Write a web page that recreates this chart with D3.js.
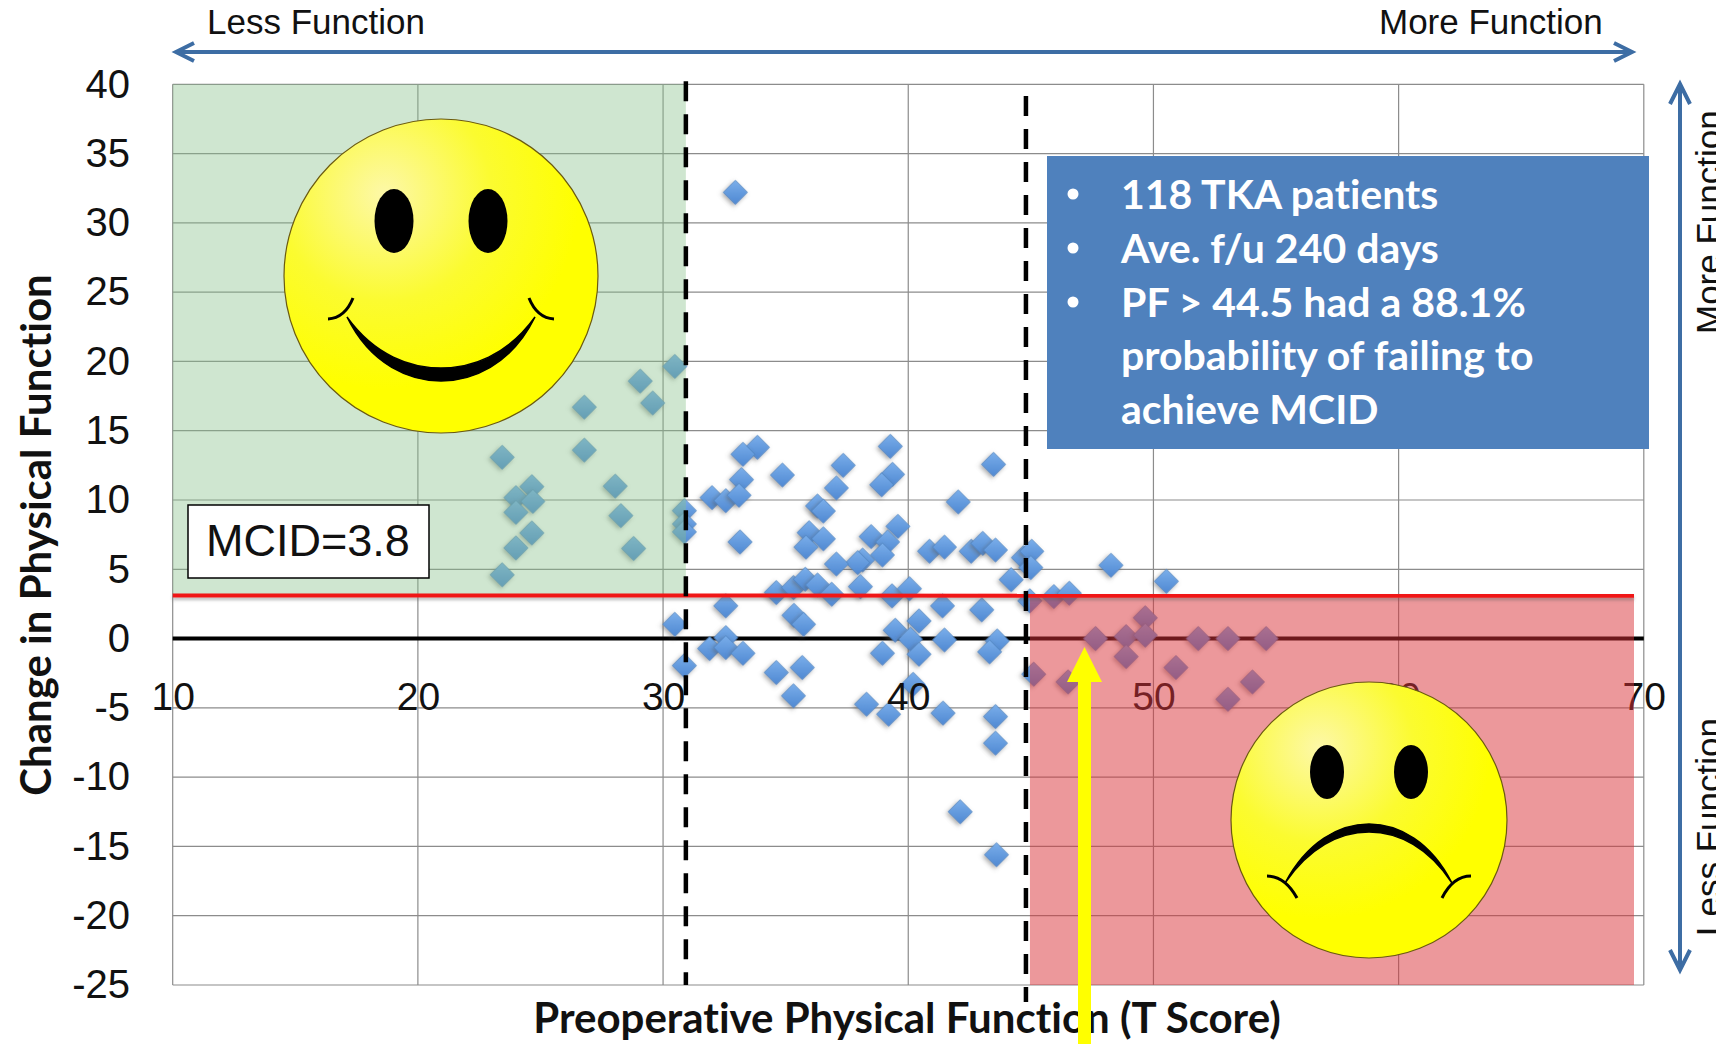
<!DOCTYPE html>
<html>
<head>
<meta charset="utf-8">
<script src="https://d3js.org/d3.v7.min.js"></script>
<style>
  html, body { margin: 0; padding: 0; background: #fff; overflow: hidden; }
  svg { display: block; }
  .arial { font-family: "Liberation Sans", Arial, sans-serif; }
  .calibri { font-family: Lato, "Open Sans", sans-serif; font-weight: 700; font-variant-ligatures: none; }
</style>
</head>
<body>
<div id="chart"></div>
<script>
// values
var xTicks = [10, 20, 30, 40, 50, 60, 70];
var yTicks = [-25, -20, -15, -10, -5, 0, 5, 10, 15, 20, 25, 30, 35, 40];

var preopScore = [
  33.85, 33.26, 37.35, 34.87, 39.27, 39.36, 38.92, 33.2, 37.07, 32.0, 32.56, 33.1, 43.48, 42.04, 36.3, 36.54,
  33.14, 35.96, 36.54, 35.83, 39.58, 38.49, 39.16, 38.95, 38.14, 37.94, 37.07, 40.87, 41.48, 42.57, 43.04, 43.56,
  44.7, 45.04, 45.0, 44.2, 48.27, 50.53, 34.62, 35.32, 35.8, 36.3, 36.88, 38.05, 39.34, 40.05, 32.56, 41.4,
  43.0, 44.96, 45.94, 46.57, 35.34, 35.73, 40.44, 39.47, 40.09, 41.48, 43.63, 43.32, 38.95, 40.44, 32.56, 31.9,
  32.56, 33.26, 34.62, 35.68, 35.32, 40.2, 38.3, 39.2, 41.42, 43.56, 43.56, 42.12, 43.6, 45.12, 46.52, 47.64,
  48.89, 48.89, 49.67, 49.67, 50.92, 51.83, 53.04, 54.6, 53.04, 54.04,
  30.48, 29.07, 29.58, 26.79, 26.79, 23.44, 28.05, 24.65, 24.0, 24.69, 24.0, 28.28, 30.87, 30.87, 30.87, 24.65,
  24.0, 28.8, 23.44, 30.48, 30.87, 32.95
];
var changeScore = [
  13.8, 13.3, 12.5, 11.8, 13.87, 11.85, 11.1, 11.47, 10.87, 10.17, 9.95, 10.34, 12.57, 9.86, 9.57, 9.2,
  6.97, 7.64, 7.2, 6.6, 8.1, 7.36, 6.97, 6.03, 5.67, 5.48, 5.38, 6.3, 6.6, 6.3, 6.87, 6.39,
  5.84, 6.3, 5.12, 4.25, 5.29, 4.13, 3.32, 3.68, 4.28, 3.87, 3.2, 3.75, 3.08, 3.6, 2.36, 2.36,
  2.07, 2.72, 3.03, 3.27, 1.68, 1.03, 1.27, 0.6, -0.05, -0.1, -0.17, -0.96, -1.06, -1.13, 0.07, -0.72,
  -0.65, -1.06, -2.45, -2.09, -4.13, -3.3, -4.74, -5.46, -5.38, -5.63, -7.55, -12.5, -15.6, -2.57, -3.13, 0,
  0.14, -1.3, 1.5, 0.24, -2.09, 0, 0, 0, -4.38, -3.13,
  19.64, 18.58, 17.0, 16.7, 13.6, 13.08, 11.0, 10.96, 10.17, 9.9, 9.11, 8.87, 9.23, 8.27, 7.7, 7.62,
  6.54, 6.5, 4.6, 1.03, -1.95, 32.2
];
var pointIndex = d3.range(preopScore.length);

var mcidLine = 3.1;
var lowCut = 30.93;
var highCut = 44.8;
var infoLines = ["118 TKA patients", "Ave. f/u 240 days", "PF > 44.5 had a 88.1%", "probability of failing to", "achieve MCID"];

var width = 1716, height = 1044;

var x = d3.scaleLinear().domain([10, 70]).range([172.7, 1643.8]);
var y = d3.scaleLinear().domain([-25, 40]).range([985, 84.3]);

var svg = d3.select("#chart").append("svg")
  .attr("width", width)
  .attr("height", height);

var defs = svg.append("defs");

var shadow = defs.append("filter").attr("id", "shadow")
  .attr("x", "-40%").attr("y", "-40%").attr("width", "180%").attr("height", "180%");
shadow.append("feDropShadow")
  .attr("dx", 0).attr("dy", 2.5).attr("stdDeviation", 2)
  .attr("flood-color", "#555").attr("flood-opacity", 0.5);

var lineShadow = defs.append("filter").attr("id", "lineShadow")
  .attr("filterUnits", "userSpaceOnUse")
  .attr("x", 0).attr("y", 0).attr("width", width).attr("height", height);
lineShadow.append("feDropShadow")
  .attr("dx", 0).attr("dy", 2.5).attr("stdDeviation", 1.5)
  .attr("flood-color", "#555").attr("flood-opacity", 0.4);

var diamondFill = defs.append("linearGradient").attr("id", "diamondFill")
  .attr("x1", 0).attr("y1", 0).attr("x2", 1).attr("y2", 1);
diamondFill.append("stop").attr("offset", "0%").attr("stop-color", "#7aaeea");
diamondFill.append("stop").attr("offset", "100%").attr("stop-color", "#4f88d2");

var faceFill = defs.append("radialGradient").attr("id", "faceFill")
  .attr("cx", "32%").attr("cy", "24%").attr("r", "62%");
faceFill.append("stop").attr("offset", "0%").attr("stop-color", "#fdf8a8");
faceFill.append("stop").attr("offset", "55%").attr("stop-color", "#fbfb30");
faceFill.append("stop").attr("offset", "100%").attr("stop-color", "#ffff00");

// gridlines and the frame
svg.append("g").selectAll("line").data(xTicks).enter().append("line")
  .attr("x1", function(d) { return x(d); })
  .attr("x2", function(d) { return x(d); })
  .attr("y1", y(40))
  .attr("y2", y(-25))
  .attr("stroke", "#8c8c8c")
  .attr("stroke-width", 1.2);

svg.append("g").selectAll("line").data(yTicks).enter().append("line")
  .attr("x1", x(10))
  .attr("x2", x(70))
  .attr("y1", function(d) { return y(d); })
  .attr("y2", function(d) { return y(d); })
  .attr("stroke", "#8c8c8c")
  .attr("stroke-width", 1.2);

// y axis labels, plain hyphen like the original
var yAxis = d3.axisLeft(y).tickValues(yTicks).tickSize(0).tickPadding(0)
  .tickFormat(function(d) { return String(d); });
var yAxisG = svg.append("g")
  .attr("transform", "translate(130,0)")
  .call(yAxis);
yAxisG.select(".domain").remove();
yAxisG.selectAll("text").attr("font-size", 40).attr("fill", "#111").attr("font-family", "Liberation Sans");

// zero line goes under the points
svg.append("line")
  .attr("x1", x(10)).attr("x2", x(70))
  .attr("y1", y(0)).attr("y2", y(0))
  .attr("stroke", "#000")
  .attr("stroke-width", 4);

// points
var diamond = d3.symbol().type(d3.symbolSquare).size(290);
svg.append("g").selectAll("path").data(pointIndex).enter().append("path")
  .attr("d", diamond)
  .attr("transform", function(i) {
    return "translate(" + x(preopScore[i]) + "," + y(changeScore[i]) + ") rotate(45)";
  })
  .attr("fill", "url(#diamondFill)")
  .attr("stroke", "#4a7ebb")
  .attr("stroke-opacity", 0.55)
  .attr("stroke-width", 1)
  .attr("filter", "url(#shadow)");

// x axis labels sit inside the plot, around y = -4
var xAxis = d3.axisBottom(x).tickValues(xTicks).tickSize(0).tickPadding(0);
var xAxisG = svg.append("g")
  .attr("transform", "translate(0," + (y(-4.1) - 13) + ")")
  .call(xAxis);
xAxisG.select(".domain").remove();
xAxisG.selectAll("text").attr("font-size", 39).attr("fill", "#111").attr("font-family", "Liberation Sans");

// shaded quadrants, on top of the points
svg.append("rect")
  .attr("x", x(10)).attr("y", y(40))
  .attr("width", x(lowCut) - x(10))
  .attr("height", y(mcidLine) - y(40))
  .attr("fill", "rgb(135,192,138)")
  .attr("fill-opacity", 0.4);

svg.append("rect")
  .attr("x", x(highCut) + 4).attr("y", y(mcidLine))
  .attr("width", x(69.6) - x(highCut) - 4)
  .attr("height", y(-25) - y(mcidLine))
  .attr("fill", "rgb(217,50,55)")
  .attr("fill-opacity", 0.5);

// MCID line
svg.append("line")
  .attr("x1", x(10)).attr("x2", x(69.6))
  .attr("y1", y(mcidLine)).attr("y2", y(mcidLine) + 0.01)
  .attr("stroke", "#f01414")
  .attr("stroke-width", 4)
  .attr("filter", "url(#lineShadow)");

// dashed cut points
svg.append("line")
  .attr("x1", x(lowCut)).attr("x2", x(lowCut))
  .attr("y1", y(40) - 3).attr("y2", y(-25))
  .attr("stroke", "#000").attr("stroke-width", 4.5)
  .attr("stroke-dasharray", "20 13");

svg.append("line")
  .attr("x1", x(highCut)).attr("x2", x(highCut))
  .attr("y1", 96).attr("y2", 1002)
  .attr("stroke", "#000").attr("stroke-width", 4.5)
  .attr("stroke-dasharray", "20 13");

// MCID label
svg.append("rect")
  .attr("x", 188).attr("y", 505)
  .attr("width", 241).attr("height", 73)
  .attr("fill", "#fff")
  .attr("stroke", "#000")
  .attr("stroke-width", 1.5);
svg.append("text")
  .attr("class", "arial")
  .attr("x", 308).attr("y", 556)
  .attr("text-anchor", "middle")
  .attr("font-size", 45)
  .attr("fill", "#111")
  .text("MCID=3.8");

// faces
function drawFace(cx, cy, r) {
  return svg.append("g").attr("transform", "translate(" + cx + "," + cy + ")")
    .call(function(g) {
      g.append("circle")
        .attr("r", r)
        .attr("fill", "url(#faceFill)")
        .attr("stroke", "#6b5a10")
        .attr("stroke-width", 1.2);
    });
}

function drawEyes(g, dx, dy, rx, ry) {
  [-dx, dx].forEach(function(d) {
    g.append("ellipse")
      .attr("cx", d).attr("cy", dy)
      .attr("rx", rx).attr("ry", ry)
      .attr("fill", "#000");
  });
}

var happy = drawFace(441, 276, 157);
drawEyes(happy, 47, -55, 19.5, 32);
happy.append("path")
  .attr("d", "M-94,41 C-70,90 -30,105 0,105 C30,105 70,90 94,41 C66,80 30,92 0,92 C-30,92 -66,80 -94,41 Z")
  .attr("fill", "#000").attr("stroke", "#000").attr("stroke-width", 1.5);
happy.append("path")
  .attr("d", "M-113,43 Q-96,42 -88,22 M113,43 Q96,42 88,22")
  .attr("fill", "none").attr("stroke", "#000").attr("stroke-width", 3);

var sad = drawFace(1369, 820, 138);
drawEyes(sad, 42, -48, 17, 27);
sad.append("path")
  .attr("d", "M-84,63 C-62,22 -30,4 0,4 C30,4 62,22 83,63 C60,28 30,12 0,12 C-30,12 -60,28 -84,63 Z")
  .attr("fill", "#000").attr("stroke", "#000").attr("stroke-width", 1.5);
sad.append("path")
  .attr("d", "M-102,56 Q-84,56 -72,78 M102,56 Q84,56 73,78")
  .attr("fill", "none").attr("stroke", "#000").attr("stroke-width", 3);

// info box
svg.append("rect")
  .attr("x", 1047).attr("y", 156)
  .attr("width", 602).attr("height", 293)
  .attr("fill", "#4f81bd");

var infoBaselines = [209, 263, 317, 370, 424];
svg.append("g").selectAll("text").data(infoLines).enter().append("text")
  .attr("class", "calibri")
  .attr("x", 1121)
  .attr("y", function(d, i) { return infoBaselines[i]; })
  .attr("font-size", 41)
  .attr("fill", "#fff")
  .text(function(d) { return d; });

svg.append("g").selectAll("circle").data([0, 1, 2]).enter().append("circle")
  .attr("cx", 1073)
  .attr("cy", function(d) { return infoBaselines[d] - 15; })
  .attr("r", 5.5)
  .attr("fill", "#fff");

// direction arrows and their labels
function drawArrow(x1, y1, x2, y2) {
  var g = svg.append("g")
    .attr("fill", "none")
    .attr("stroke", "#3d6da4")
    .attr("stroke-width", 4);
  g.append("line").attr("x1", x1).attr("y1", y1).attr("x2", x2).attr("y2", y2);
  if (y1 === y2) {
    g.append("path").attr("d", "M" + (x1 + 18) + "," + (y1 - 9) + " L" + x1 + "," + y1 + " L" + (x1 + 18) + "," + (y1 + 9));
    g.append("path").attr("d", "M" + (x2 - 18) + "," + (y2 - 9) + " L" + x2 + "," + y2 + " L" + (x2 - 18) + "," + (y2 + 9));
  } else {
    g.append("path").attr("d", "M" + (x1 - 10) + "," + (y1 + 20) + " L" + x1 + "," + y1 + " L" + (x1 + 10) + "," + (y1 + 20));
    g.append("path").attr("d", "M" + (x2 - 10) + "," + (y2 - 20) + " L" + x2 + "," + y2 + " L" + (x2 + 10) + "," + (y2 - 20));
  }
}
drawArrow(176, 52, 1632, 52);
drawArrow(1680, 84, 1680, 970);

svg.append("text").attr("class", "arial")
  .attr("x", 207).attr("y", 34)
  .attr("font-size", 35).attr("fill", "#111")
  .text("Less Function");
svg.append("text").attr("class", "arial")
  .attr("x", 1379).attr("y", 34)
  .attr("font-size", 35).attr("fill", "#111")
  .text("More Function");

svg.append("text").attr("class", "arial")
  .attr("transform", "translate(1721,334) rotate(-90)")
  .attr("font-size", 35).attr("fill", "#111")
  .text("More Function");
svg.append("text").attr("class", "arial")
  .attr("transform", "translate(1721,936) rotate(-90)")
  .attr("font-size", 35).attr("fill", "#111")
  .text("Less Function");

// axis titles
svg.append("text").attr("class", "calibri")
  .attr("x", 907).attr("y", 1033)
  .attr("text-anchor", "middle")
  .attr("font-size", 42)
  .attr("fill", "#111")
  .text("Preoperative Physical Function (T Score)");

svg.append("text").attr("class", "calibri")
  .attr("transform", "translate(51,535) rotate(-90)")
  .attr("text-anchor", "middle")
  .attr("font-size", 42)
  .attr("fill", "#111")
  .text("Change in Physical Function");

// yellow arrow
svg.append("rect")
  .attr("x", 1078).attr("y", 680)
  .attr("width", 13).attr("height", height - 680)
  .attr("fill", "#ffff00");
svg.append("path")
  .attr("d", "M1084.5,647 L1102,682 L1067,682 Z")
  .attr("fill", "#ffff00");
</script>
</body>
</html>
